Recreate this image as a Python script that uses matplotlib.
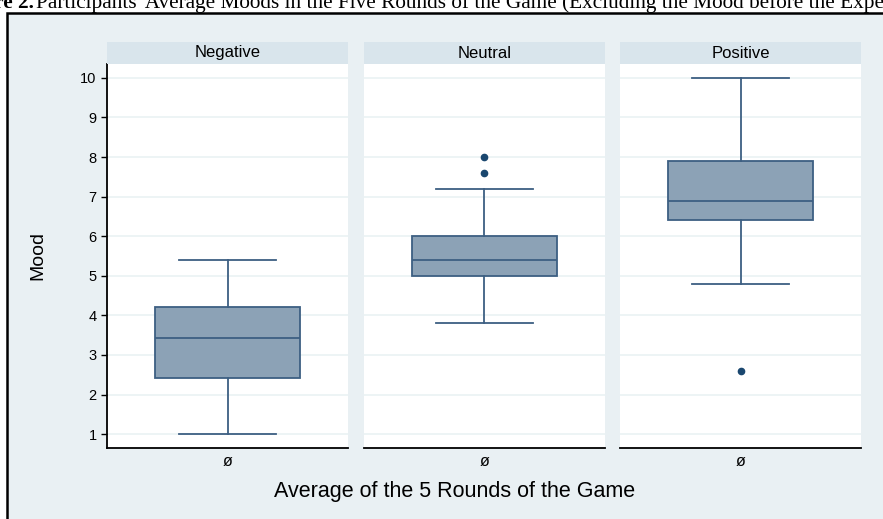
import matplotlib
matplotlib.use("Agg")
import matplotlib.pyplot as plt
from matplotlib.patches import Rectangle

# mood summary per condition
groups = ["Negative", "Neutral", "Positive"]
whislo = [1.0, 3.8, 4.8]
q1 = [2.42, 5.0, 6.4]
med = [3.42, 5.4, 6.9]
q3 = [4.2, 6.0, 7.9]
whishi = [5.4, 7.2, 10.0]
fliers = [[], [8.0, 7.6], [2.6]]
yticks = [1, 2, 3, 4, 5, 6, 7, 8, 9, 10]

bg = "#e9f0f3"
strip_col = "#d9e5ec"
box_fill = "#8ca2b6"
box_edge = "#3d5f82"
dot_col = "#1a476f"
grid_col = "#eaf2f3"

plt.rcParams["font.family"] = ["Liberation Sans", "DejaVu Sans"]

fig = plt.figure(figsize=(8.83, 5.19), dpi=100)
W, H = 883.0, 519.0

# outer frame, on a background axes
bax = fig.add_axes([0, 0, 1, 1], zorder=-10)
bax.set_xlim(0, W)
bax.set_ylim(H, 0)
bax.axis("off")
bax.add_patch(Rectangle((7, 13), W + 20, H, facecolor=bg, edgecolor="black", linewidth=1.8))

# caption cut off at the top (as in the source page)
fig.text(34 / W, 1 - 8 / H, "Figure 2.", ha="right", va="baseline", fontsize=15.3,
         fontweight="bold", family="Liberation Serif")
fig.text(36 / W, 1 - 8 / H, "Participants' Average Moods in the Five Rounds of the Game "
         "(Excluding the Mood before the Experiment)", ha="left", va="baseline", fontsize=15.3,
         family="Liberation Serif")

lefts = [107, 364, 620]
pw = 241
bottom = 1 - 448 / H
top = 1 - 64 / H
strip_top = 1 - 42 / H

for i, g in enumerate(groups):
    ax = fig.add_axes([lefts[i] / W, bottom, pw / W, top - bottom])
    ax.set_facecolor("white")
    stats = [{"whislo": whislo[i], "q1": q1[i], "med": med[i], "q3": q3[i],
              "whishi": whishi[i], "fliers": fliers[i]}]
    ax.bxp(stats, positions=[0], widths=0.6, patch_artist=True,
           boxprops=dict(facecolor=box_fill, edgecolor=box_edge, linewidth=1.3),
           medianprops=dict(color=box_edge, linewidth=1.3),
           whiskerprops=dict(color=box_edge, linewidth=1.3),
           capprops=dict(color=box_edge, linewidth=1.3),
           capwidths=0.4,
           flierprops=dict(marker="o", markersize=4.5, markerfacecolor=dot_col,
                           markeredgecolor=dot_col))
    ax.set_xlim(-0.5, 0.5)
    ax.set_ylim(0.65, 10.35)
    ax.set_yticks(yticks)
    ax.grid(axis="y", color=grid_col, linewidth=1.2)
    ax.set_axisbelow(True)
    ax.set_xticks([0])
    ax.set_xticklabels(["ø"], fontsize=11.5)
    ax.tick_params(axis="x", length=0, pad=4)
    for s in ["top", "right"]:
        ax.spines[s].set_visible(False)
    ax.spines["bottom"].set_color("black")
    ax.spines["bottom"].set_linewidth(1.3)
    if i == 0:
        ax.spines["left"].set_linewidth(1.3)
        ax.tick_params(axis="y", labelsize=10.5, length=4, width=1)
        ax.set_ylabel("Mood", fontsize=14, labelpad=24)
    else:
        ax.spines["left"].set_visible(False)
        ax.tick_params(axis="y", left=False, labelleft=False)

    sax = fig.add_axes([lefts[i] / W, top, pw / W, strip_top - top])
    sax.set_facecolor(strip_col)
    sax.set_xticks([])
    sax.set_yticks([])
    for s in sax.spines.values():
        s.set_visible(False)
    sax.text(0.5, 0.5, g, ha="center", va="center", fontsize=12, transform=sax.transAxes)

fig.text(455 / W, 1 - 491 / H, "Average of the 5 Rounds of the Game", ha="center", va="center",
         fontsize=15.5)

fig.savefig("out.png", dpi=100)
